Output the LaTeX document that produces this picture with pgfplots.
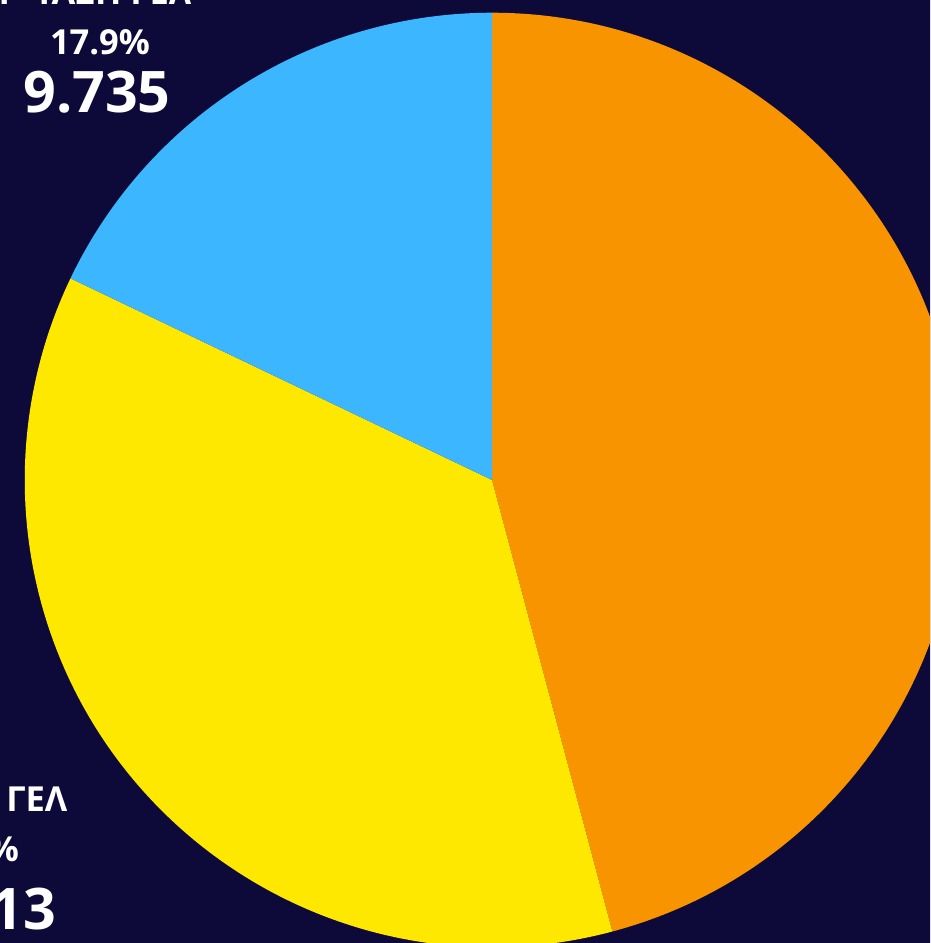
\documentclass[border=0pt]{standalone}
\usepackage{pgfplots}
\pgfplotsset{compat=1.18}
\usepackage{pgfplotstable}
\usepackage{fontspec}
\setmainfont{Open Sans}

\definecolor{bgnavy}{HTML}{0D0A3A}
\definecolor{sliceorange}{HTML}{F79400}
\definecolor{sliceyellow}{HTML}{FFE800}
\definecolor{sliceblue}{HTML}{3CB6FF}

% shares (thousands), clockwise from 12 o'clock
\pgfplotstableread{
slice value
A 24.937
B 19.713
C 9.735
}\piedata

\begin{document}
\begin{tikzpicture}
\pgfplotstablegetelem{0}{value}\of\piedata \edef\va{\pgfplotsretval}
\pgfplotstablegetelem{1}{value}\of\piedata \edef\vb{\pgfplotsretval}
\pgfplotstablegetelem{2}{value}\of\piedata \edef\vc{\pgfplotsretval}
\pgfmathsetmacro\tot{\va+\vb+\vc}
\pgfmathsetmacro\aA{90-360*\va/\tot}
\pgfmathsetmacro\aB{\aA-360*\vb/\tot}
\def\R{4.67cm}
\begin{axis}[
  x=0.01cm, y=0.01cm,
  xmin=0, xmax=930, ymin=0, ymax=943,
  hide axis, clip=true,
]
\fill[bgnavy] (axis cs:-50,-50) rectangle (axis cs:980,990);
\coordinate (bl) at (axis cs:0,0);
\coordinate (tr) at (axis cs:930,943);
% slices
\fill[sliceorange] (axis cs:492,463) -- ++(90:\R) arc[start angle=90, end angle=\aA, radius=\R] -- cycle;
\fill[sliceyellow] (axis cs:492,463) -- ++(\aA:\R) arc[start angle=\aA, end angle=\aB, radius=\R] -- cycle;
\fill[sliceblue] (axis cs:492,463) -- ++(\aB:\R) arc[start angle=\aB, end angle=-270, radius=\R] -- cycle;
% labels
\tikzset{lbl/.style={anchor=base, text=white, inner sep=0pt}}
\node[lbl, font=\bfseries\fontsize{9.8}{11}\selectfont] at (axis cs:95,938) {Γ' ΤΑΞΗ ΓΕΛ};
\node[lbl, font=\bfseries\fontsize{9.8}{11}\selectfont] at (axis cs:100,888) {17.9\%};
\node[lbl, font=\bfseries\fontsize{16.3}{18}\selectfont] at (axis cs:97,830) {9.735};
\node[lbl, font=\bfseries\fontsize{9.8}{11}\selectfont] at (axis cs:-31,131) {Β' ΤΑΞΗ ΓΕΛ};
\node[lbl, font=\bfseries\fontsize{9.8}{11}\selectfont] at (axis cs:-31,81) {36.2\%};
\node[lbl, font=\bfseries\fontsize{16.3}{18}\selectfont] at (axis cs:-34,13) {19.713};
\end{axis}
\pgfresetboundingbox
\useasboundingbox (bl) rectangle (tr);
\end{tikzpicture}
\end{document}
